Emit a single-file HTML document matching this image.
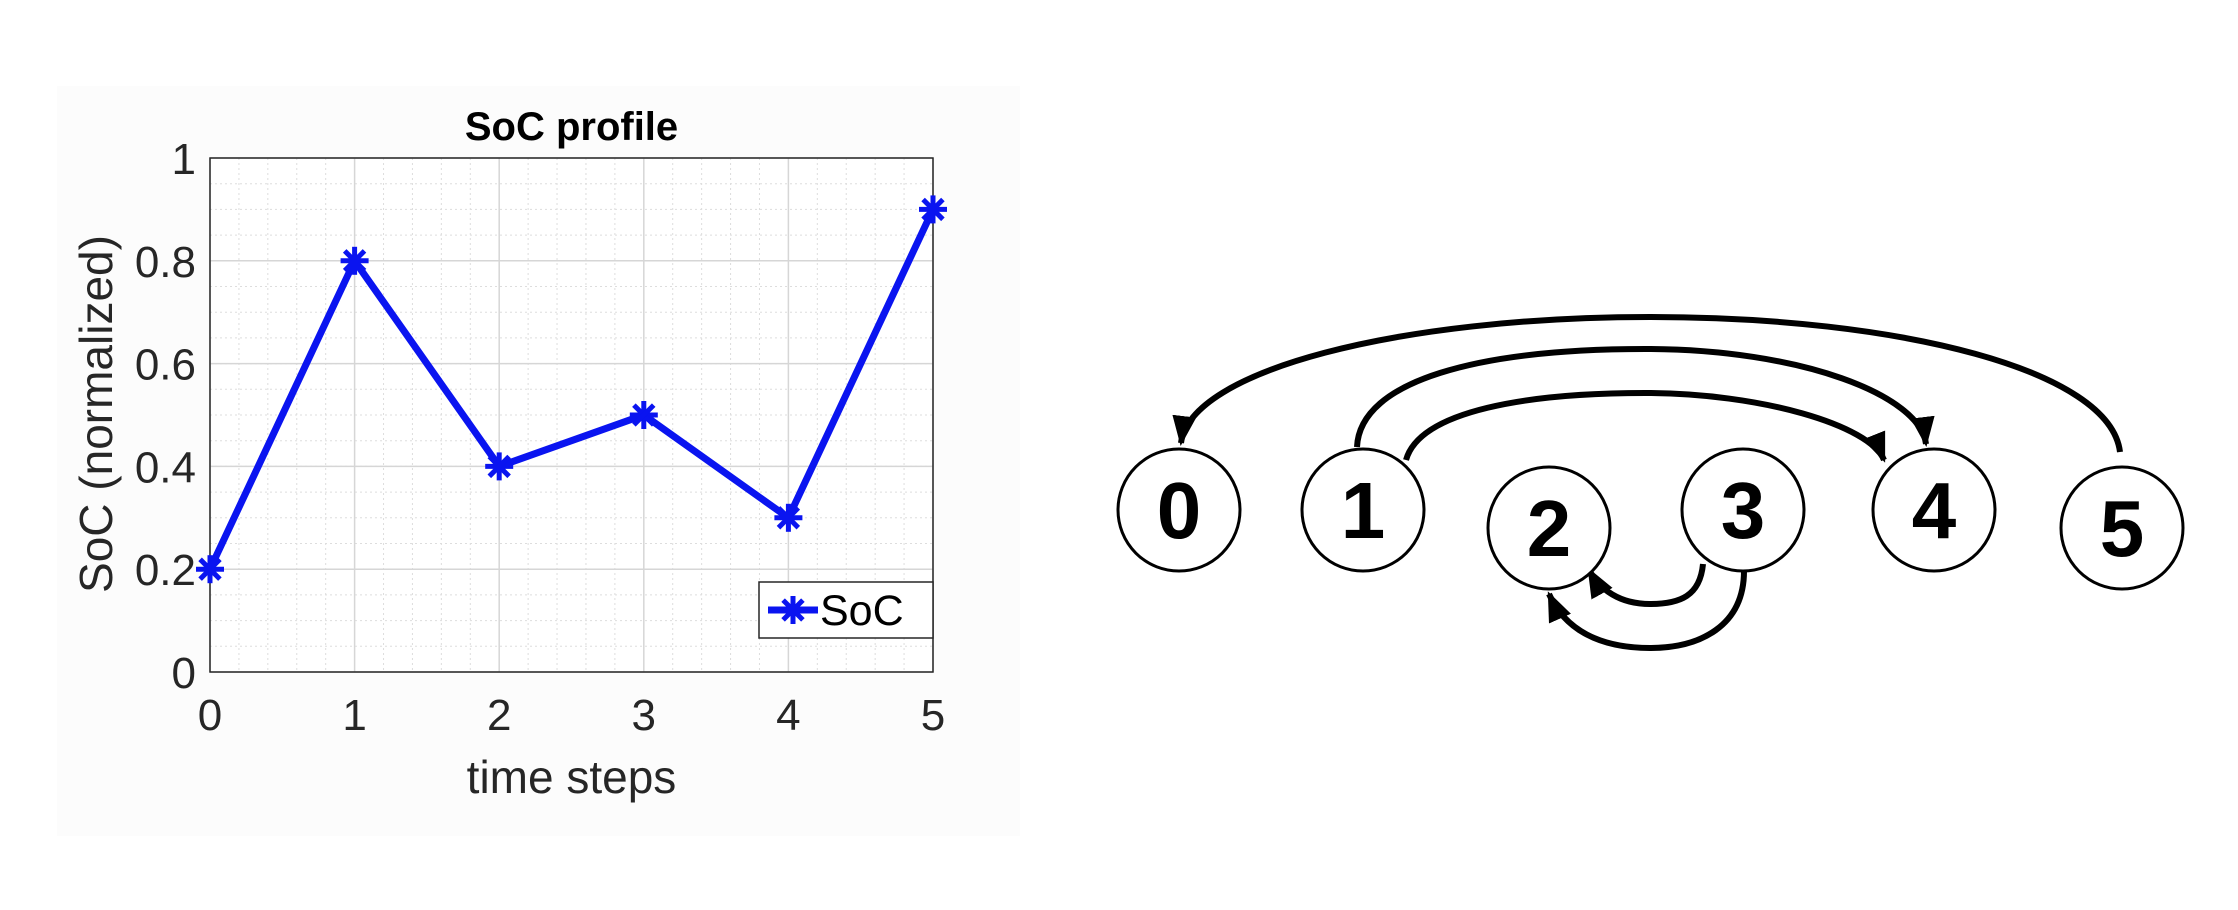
<!DOCTYPE html>
<html><head><meta charset="utf-8"><style>
body{margin:0;background:#fff;}
svg{display:block;font-family:"Liberation Sans",sans-serif;}
</style></head><body>
<svg width="2238" height="910" viewBox="0 0 2238 910">
<defs>
<marker id="ah" viewBox="0 0 10 10" refX="9" refY="5" markerWidth="5" markerHeight="5" orient="auto" markerUnits="strokeWidth"><path d="M0,1 L10,5 L0,9 Z" fill="#000"/></marker>
</defs>
<rect x="57" y="86" width="963" height="750" fill="#fcfcfc"/>
<g id="chart"></g>
<g id="graph"></g>
</svg>
<script>
const categories=[0,1,2,3,4,5];
const socValues=[0.2,0.8,0.4,0.5,0.3,0.9];
const yTicks=[0,0.2,0.4,0.6,0.8,1];
const yTickLabels=['0','0.2','0.4','0.6','0.8','1'];
const seriesName='SoC';
const NS='http://www.w3.org/2000/svg';
const L=210,R=933,T=158,B=672;
const xs=v=>L+(v-0)/(5-0)*(R-L);
const ys=v=>B-(v-0)/(1-0)*(B-T);
function mk(tag,attrs,parent){const e=document.createElementNS(NS,tag);for(const k in attrs)e.setAttribute(k,attrs[k]);parent.appendChild(e);return e;}
const c=document.getElementById('chart');
const bg=mk('rect',{x:L,y:T,width:R-L,height:B-T,fill:'#fff'},c);


for(let i=0;i<=25;i++){const x=L+i*(R-L)/25;const g=mk('line',{x1:x,x2:x,y1:T,y2:B,stroke:'#ddd','stroke-width':1,'stroke-dasharray':'2,3'},c);}
for(let i=0;i<=20;i++){const y=T+i*(B-T)/20;const g=mk('line',{x1:L,x2:R,y1:y,y2:y,stroke:'#ddd','stroke-width':1,'stroke-dasharray':'2,3'},c);}
categories.forEach(v=>{const g=mk('line',{x1:xs(v),x2:xs(v),y1:T,y2:B,stroke:'#d6d6d6','stroke-width':1.5},c);
const t=mk('text',{x:xs(v),y:B+58,'text-anchor':'middle','font-size':44,fill:'#262626'},c);t.textContent=v;});
yTicks.forEach((v,i)=>{const g=mk('line',{x1:L,x2:R,y1:ys(v),y2:ys(v),stroke:'#d6d6d6','stroke-width':1.5},c);
const t=mk('text',{x:L-14,y:ys(v)+16,'text-anchor':'end','font-size':44,fill:'#262626'},c);t.textContent=yTickLabels[i];});
const ax=mk('rect',{x:L,y:T,width:R-L,height:B-T,fill:'none',stroke:'#262626','stroke-width':1.5},c);


const line=mk('polyline',{points:categories.map((v,i)=>xs(v)+','+ys(socValues[i])).join(' '),fill:'none',stroke:'#0a14f0','stroke-width':7,'stroke-linejoin':'round'},c);


function star(x,y,p,name){const g=mk('g',{stroke:'#0a14f0','stroke-width':5},p);
for(let a=0;a<4;a++){const an=a*Math.PI/4,r=14;mk('line',{x1:x-r*Math.cos(an),y1:y-r*Math.sin(an),x2:x+r*Math.cos(an),y2:y+r*Math.sin(an)},g);}}
categories.forEach((v,i)=>star(xs(v),ys(socValues[i]),c,'soc-point'));
const title=mk('text',{x:(L+R)/2,y:140,'text-anchor':'middle','font-size':40,'font-weight':'bold',fill:'#000'},c);title.textContent='SoC profile';


const xl=mk('text',{x:(L+R)/2,y:793,'text-anchor':'middle','font-size':46,fill:'#262626'},c);xl.textContent='time steps';


const yl=mk('text',{x:0,y:0,transform:'translate(112,414) rotate(-90)','text-anchor':'middle','font-size':46,fill:'#262626'},c);yl.textContent='SoC (normalized)';


const lg=mk('g',{},c);


mk('rect',{x:759,y:582,width:174,height:56,fill:'#fff',stroke:'#262626','stroke-width':1.5},lg);
mk('line',{x1:768,x2:818,y1:610,y2:610,stroke:'#0a14f0','stroke-width':7},lg);
star(793,610,lg,'legend-marker');
const lt=mk('text',{x:820,y:625,'font-size':43,fill:'#000'},lg);lt.textContent=seriesName;



const gg=document.getElementById('graph');
const arcs=[
 ['M2120,452 C2110,370 1900,317 1650,317 C1400,317 1190,370 1181,443','arc-5-to-0'],
 ['M1357,447 C1360,380 1480,349 1645,349 C1800,349 1920,395 1926,444','arc-1-to-4-outer'],
 ['M1406,460 C1420,410 1530,393 1645,393 C1760,393 1870,425 1884,460','arc-1-to-4-inner'],
 ['M1703,564 C1700,596 1680,604 1650,604 C1620,604 1600,590 1589,570','arc-3-to-2-inner'],
 ['M1744,571 C1744,626 1700,648 1650,648 C1600,648 1565,630 1549,594','arc-3-to-2-outer']
];
arcs.forEach(a=>{const p=mk('path',{d:a[0],fill:'none',stroke:'#000','stroke-width':6,'marker-end':'url(#ah)'},gg);});
const nodes=[[1179,510,'0'],[1363,510,'1'],[1549,528,'2'],[1743,510,'3'],[1934,510,'4'],[2122,528,'5']];
nodes.forEach(n=>{const g=mk('g',{},gg);
mk('circle',{cx:n[0],cy:n[1],r:61,fill:'#fff',stroke:'#000','stroke-width':3},g);
const t=mk('text',{x:n[0],y:n[1]+28,'text-anchor':'middle','font-size':80,'font-weight':'bold',fill:'#000'},g);t.textContent=n[2];});
</script>
</body></html>
